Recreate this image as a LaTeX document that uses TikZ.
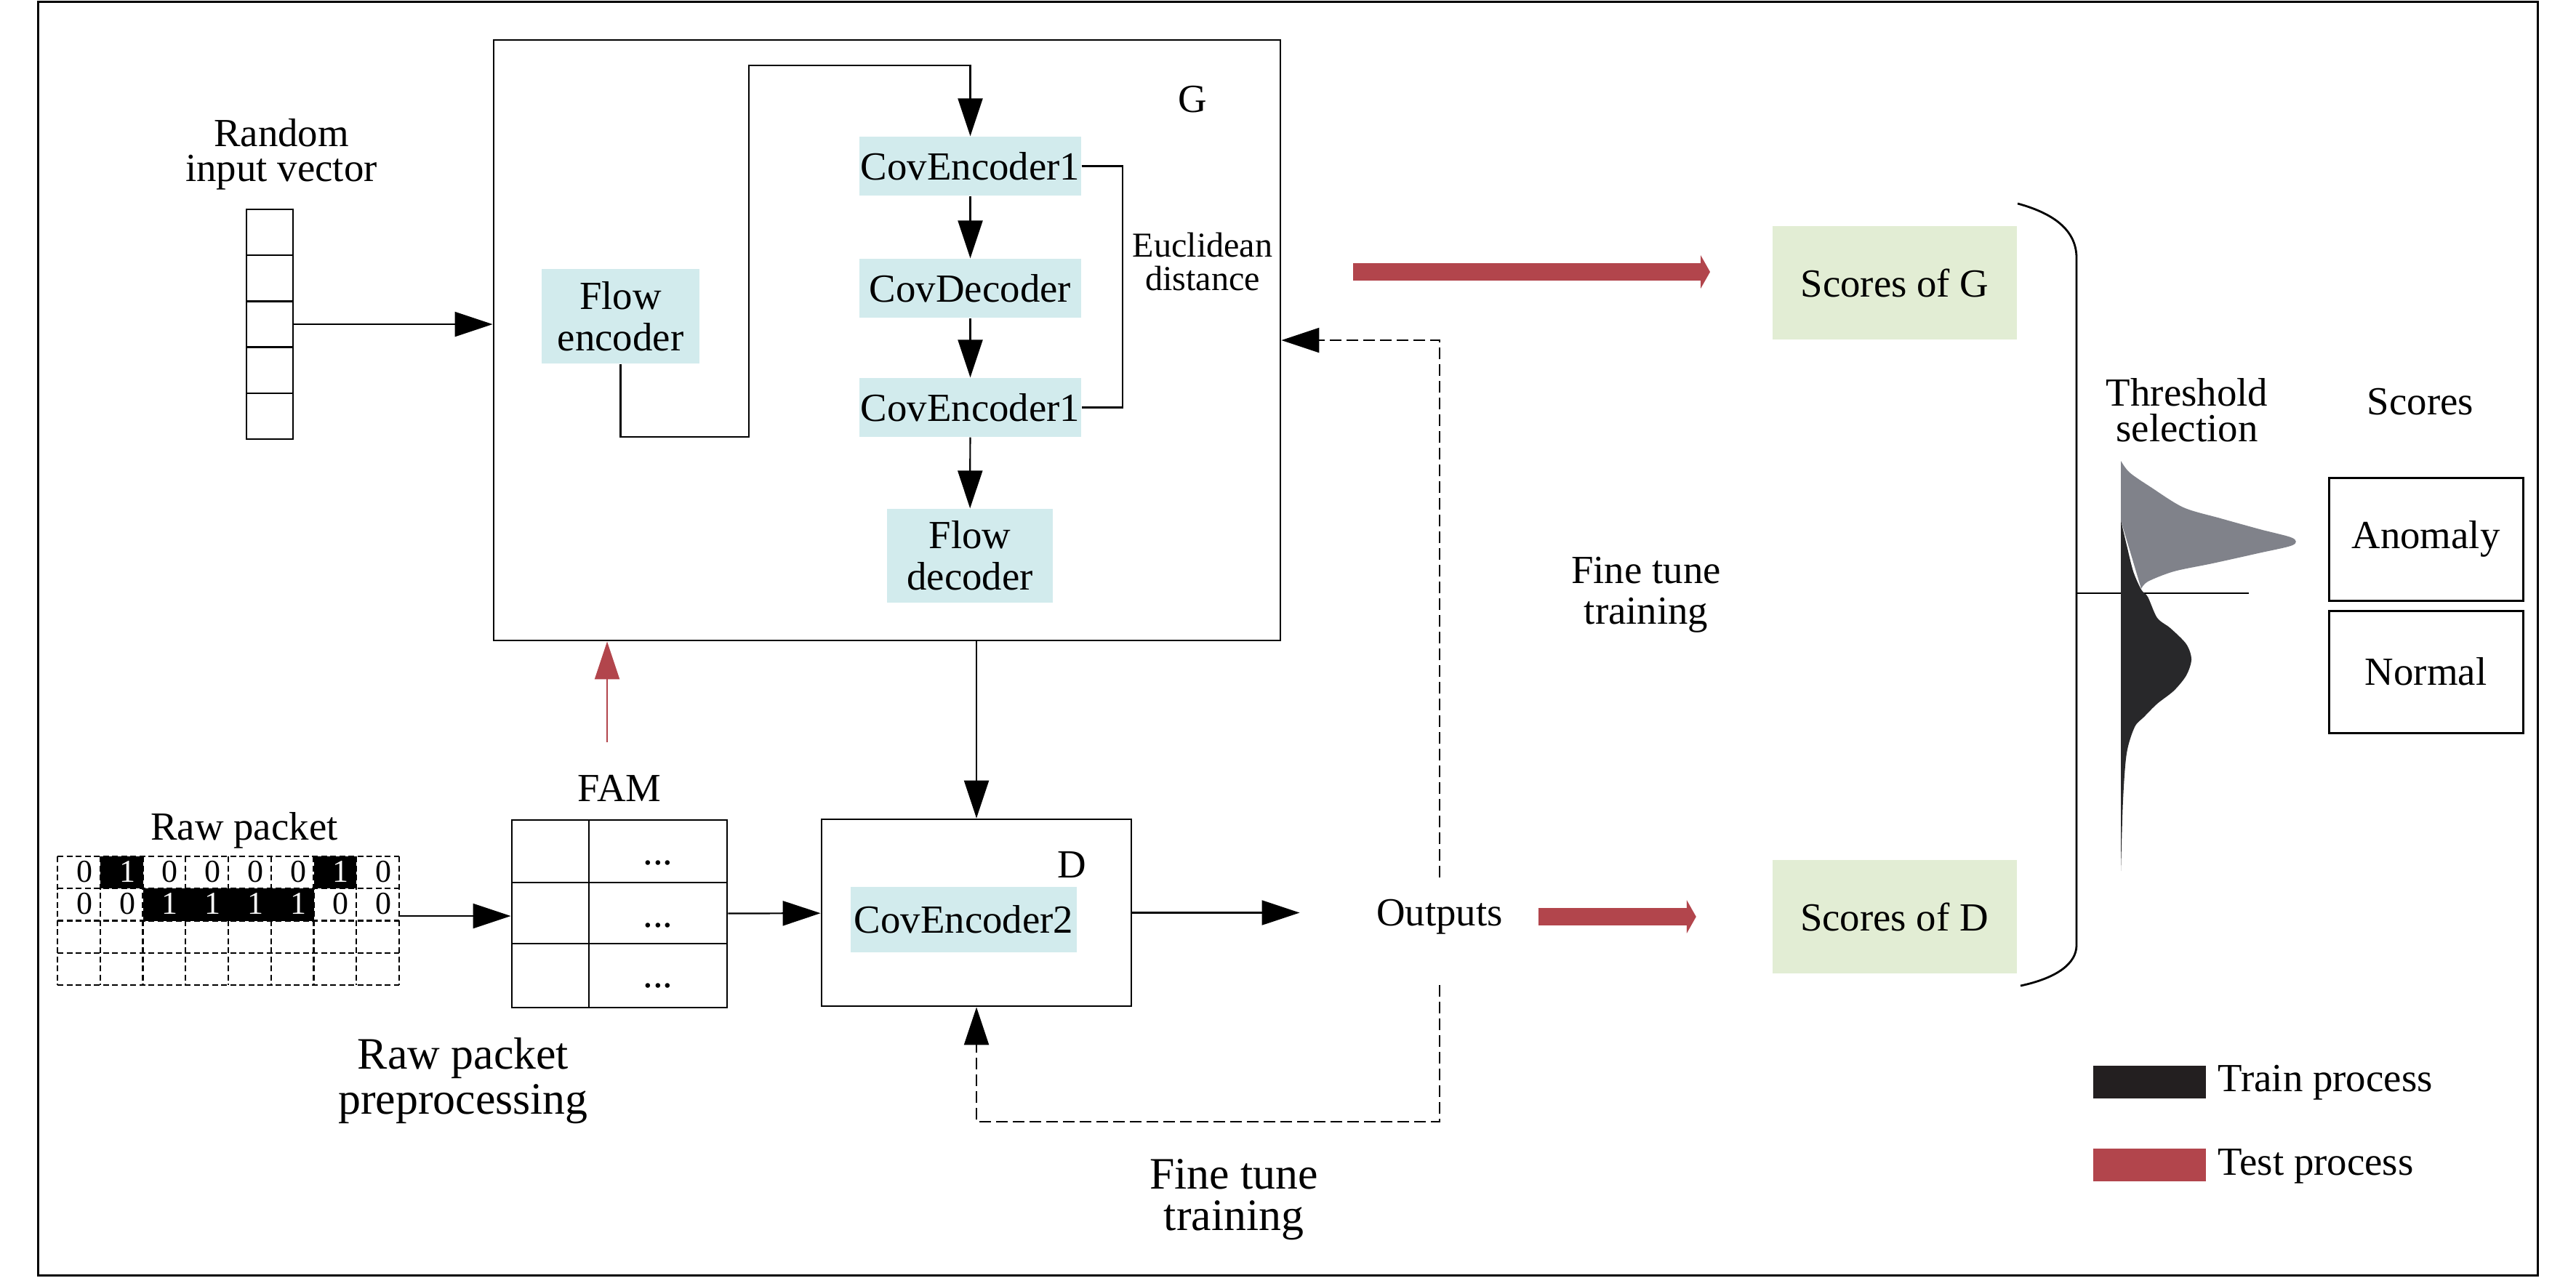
\documentclass[tikz,border=0pt]{standalone}
\usepackage{fontspec}
\setmainfont{Liberation Serif}
\usetikzlibrary{arrows.meta}
\definecolor{encblue}{RGB}{210,235,237}
\definecolor{scoregreen}{RGB}{226,237,212}
\definecolor{testred}{RGB}{178,69,76}
\definecolor{anomgray}{RGB}{128,130,138}
\definecolor{normblack}{RGB}{40,40,42}
\definecolor{trainblack}{RGB}{35,31,32}
\tikzset{
  boxline/.style={draw, line width=0.028cm, inner sep=0pt},
  encbox/.style={fill=encblue, inner sep=0pt, align=center},
  scorebox/.style={fill=scoregreen, inner sep=0pt, minimum width=3.360000cm, minimum height=1.560000cm},
  arr/.style={line width=0.022cm, -{Triangle[length=0.520000cm,width=0.340000cm]}},
  tunedash/.style={line width=0.022cm, dash pattern=on 0.160000cm off 0.070000cm},
  testarrow/.style={draw=testred, line width=0.240000cm, -{Triangle[length=0.130000cm,width=0.460000cm,line width=0pt]}},
  gridline/.style={line width=0.022cm, dash pattern=on 0.080000cm off 0.045000cm},
  twoline/.style={align=center, inner sep=0pt},
}
\begin{document}
\begin{tikzpicture}
                % \clip (0,0) rectangle (35.430000,-17.570000);
                \useasboundingbox (0.000000,0.000000) rectangle (35.430000,-17.570000);
                {\fontsize{15.6}{13.6}\selectfont

                % Drawing outer frame
                \draw [line width=0.030000cm] (0.520000,-0.020000) rectangle (34.900000,-17.540000);%

                % Drawing box G
                \node [boxline, minimum width=10.820000cm, minimum height=8.260000cm] (G) at (12.200000,-4.680000) {};%
                \node [inner sep=0pt] (Glbl) at (16.400000,-1.370000) {G};%

                % Drawing random input vector
                \node [twoline] (rlbl) at (3.870000,-2.120000) {Random\\input vector};%
                \node [boxline, line width=0.025cm, minimum width=0.640000cm, minimum height=3.160000cm] (rvec) at (3.710000,-4.460000) {};%
                \foreach \k in {1,...,4}
                  \draw [line width=0.025cm] (3.390000,{-2.880000-0.632000*\k}) -- (4.030000,{-2.880000-0.632000*\k});%
                \draw [arr] (rvec.east) -- (rvec.east -| G.west);%

                % Drawing encoder blocks of G
                \node [encbox, minimum width=2.170000cm, minimum height=1.300000cm, font=\fontsize{15.6}{16.3}\selectfont] (fenc) at (8.535000,-4.350000) {Flow\\encoder};%
                \node [encbox, minimum width=3.050000cm, minimum height=0.810000cm] (ceA) at (13.345000,-2.285000) {CovEncoder1};%
                \node [encbox, minimum width=3.050000cm, minimum height=0.810000cm] (cdec) at (13.345000,-3.965000) {CovDecoder};%
                \node [encbox, minimum width=3.050000cm, minimum height=0.810000cm] (ceB) at (13.345000,-5.605000) {CovEncoder1};%
                \node [encbox, minimum width=2.280000cm, minimum height=1.290000cm, font=\fontsize{15.6}{16.3}\selectfont] (fdec) at (13.340000,-7.645000) {Flow\\decoder};%

                % Drawing links inside G
                \draw [arr] (fenc.south) |- (10.300000,-6.010000) -- (10.300000,-0.900000) -| (ceA.north);%
                \draw [arr] (ceA) -- (cdec);%
                \draw [arr] (cdec) -- (ceB);%
                \draw [arr] (ceB) -- (fdec);%
                \draw [line width=0.022cm] (ceA.east) -- ++(0.560000,0) |- (ceB.east);%
                \node [twoline, font=\fontsize{13.7}{13.2}\selectfont] (euc) at (16.540000,-3.600000) {Euclidean\\distance};%

                % Drawing raw packet
                \node [inner sep=0pt] (pktlbl) at (3.360000,-11.420000) {Raw packet};%
                \fill [black] (1.377500,-11.780000) rectangle (1.965000,-12.222500);%
                \fill [black] (4.315000,-11.780000) rectangle (4.902500,-12.222500);%
                \fill [black] (1.965000,-12.222500) rectangle (4.315000,-12.665000);%
                \foreach \i in {0,...,8}
                  \draw [gridline] ({0.790000+0.587500*\i},-11.780000) -- ({0.790000+0.587500*\i},-13.550000);%
                \foreach \j in {0,...,4}
                  \draw [gridline] (0.790000,{-11.780000-0.442500*\j}) -- (5.490000,{-11.780000-0.442500*\j});%
                \foreach \d/\c [count=\i from 0] in {0/black,1/white,0/black,0/black,0/black,0/black,1/white,0/black}
                  \node [text=\c, inner sep=0pt, font=\fontsize{12.5}{12.5}\selectfont] (bitA\i) at ({1.163750+0.587500*\i},-11.990000) {\d};%
                \foreach \d/\c [count=\i from 0] in {0/black,0/black,1/white,1/white,1/white,1/white,0/black,0/black}
                  \node [text=\c, inner sep=0pt, font=\fontsize{12.5}{12.5}\selectfont] (bitB\i) at ({1.163750+0.587500*\i},-12.430000) {\d};%
                \coordinate (pktout) at (5.490000,-12.600000);%
                \node [twoline, font=\fontsize{17.6}{17.6}\selectfont] (prep) at (6.370000,-14.870000) {Raw packet\\preprocessing};%

                % Drawing FAM table
                \node [inner sep=0pt] (famlbl) at (8.520000,-10.840000) {FAM};%
                \node [boxline, minimum width=2.960000cm, minimum height=2.580000cm] (FAM) at (8.520000,-12.570000) {};%
                \draw [line width=0.028cm] (8.100000,-11.280000) -- (8.100000,-13.860000);%
                \draw [line width=0.028cm] (7.040000,-12.140000) -- (10.000000,-12.140000);%
                \draw [line width=0.028cm] (7.040000,-12.980000) -- (10.000000,-12.980000);%
                \node [anchor=base, inner sep=0pt] (dotsA) at (9.050000,-11.890000) {...};%
                \node [anchor=base, inner sep=0pt] (dotsB) at (9.050000,-12.750000) {...};%
                \node [anchor=base, inner sep=0pt] (dotsC) at (9.050000,-13.580000) {...};%
                \draw [arr] (pktout) -- (pktout -| FAM.west);%
                \coordinate (famup) at (8.350000,-10.210000);%
                \draw [arr, testred] (famup) -- (famup |- G.south);%

                % Drawing box D
                \node [boxline, minimum width=4.260000cm, minimum height=2.570000cm] (D) at (13.430000,-12.555000) {};%
                \node [inner sep=0pt] (Dlbl) at (14.740000,-11.900000) {D};%
                \node [encbox, minimum width=3.110000cm, minimum height=0.900000cm] (ceC) at (13.255000,-12.650000) {CovEncoder2};%
                \draw [arr] (FAM) -- (D);%
                \draw [arr] (G.south -| D.north) -- (D.north);%

                % Drawing outputs and fine tune loops
                \node [inner sep=0pt, text height=0.650000cm, text depth=0.810000cm, anchor=base] (out) at (19.800000,-12.730000) {Outputs};%
                \draw [arr, shorten >=1.050000cm] (D.east) -- (D.east -| out.west);%
                \draw [tunedash, arr] (out.north) |- (G.east);%
                \draw [tunedash, arr] (out.south) -- ++(0,-1.880000) -| (D.south);%
                \node [twoline, font=\fontsize{15.6}{15.9}\selectfont] (tuneA) at (22.640000,-8.180000) {Fine tune\\training};%
                \node [twoline, font=\fontsize{17.6}{16.2}\selectfont] (tuneB) at (16.970000,-16.500000) {Fine tune\\training};%

                % Drawing scores
                \node [scorebox] (sG) at (26.060000,-3.890000) {Scores of G};%
                \node [scorebox] (sD) at (26.055000,-12.610000) {Scores of D};%
                \coordinate (redGa) at (18.610000,-3.740000);%
                \coordinate (redGb) at (23.520000,-3.740000);%
                \draw [testarrow] (redGa) -- (redGb);%
                \draw [testarrow, shorten <=0.480000cm, shorten >=1.040000cm] (out.east |- sD.west) -- (sD.west);%

                % Drawing bracket
                \draw [line width=0.028cm] (27.750000,-2.800000) .. controls (28.300000,-2.950000) and (28.560000,-3.200000) .. (28.560000,-3.550000) -- (28.560000,-13.000000) .. controls (28.560000,-13.250000) and (28.300000,-13.450000) .. (27.790000,-13.560000);%
                \draw [line width=0.022cm] (28.560000,-8.160000) -- (30.930000,-8.160000);%

                % Drawing threshold selection
                \node [twoline, font=\fontsize{15.6}{13.8}\selectfont] (thr) at (30.080000,-5.640000) {Threshold\\selection};%
                \fill [anomgray] plot [smooth, tension=0.5] coordinates {(29.170000,-6.340000) (29.290000,-6.500000) (29.580000,-6.700000) (30.030000,-6.980000) (30.540000,-7.130000) (31.080000,-7.280000) (31.530000,-7.400000) (31.530000,-7.500000) (31.060000,-7.610000) (30.430000,-7.750000) (29.900000,-7.860000) (29.540000,-8.000000) (29.450000,-8.100000)} -- (29.170000,-7.160000) -- cycle;%
                \fill [normblack] plot [smooth, tension=0.5] coordinates {(29.170000,-7.160000) (29.250000,-7.500000) (29.340000,-7.860000) (29.450000,-8.110000) (29.540000,-8.210000) (29.670000,-8.500000) (29.850000,-8.640000) (30.070000,-8.860000) (30.140000,-9.070000) (30.070000,-9.290000) (29.900000,-9.500000) (29.670000,-9.680000) (29.490000,-9.860000) (29.360000,-10.000000) (29.250000,-10.360000) (29.200000,-11.000000) (29.170000,-11.980000)} -- cycle;%

                % Drawing score classes
                \node [inner sep=0pt] (sclbl) at (33.290000,-5.530000) {Scores};%
                \node [boxline, line width=0.030cm, minimum width=2.670000cm, minimum height=1.690000cm] (anom) at (33.365000,-7.415000) {Anomaly};%
                \node [boxline, line width=0.030cm, minimum width=2.670000cm, minimum height=1.680000cm] (norm) at (33.365000,-9.240000) {Normal};%

                % Drawing legend
                \node [fill=trainblack, inner sep=0pt, minimum width=1.550000cm, minimum height=0.450000cm] (lgA) at (29.565000,-14.885000) {};%
                \node [fill=testred, inner sep=0pt, minimum width=1.550000cm, minimum height=0.450000cm] (lgB) at (29.565000,-16.025000) {};%
                \node [anchor=west, inner sep=0pt] (lgAtxt) at (30.500000,-14.890000) {Train process};%
                \node [anchor=west, inner sep=0pt] (lgBtxt) at (30.500000,-16.040000) {Test process};%
                }
\end{tikzpicture}
\end{document}
